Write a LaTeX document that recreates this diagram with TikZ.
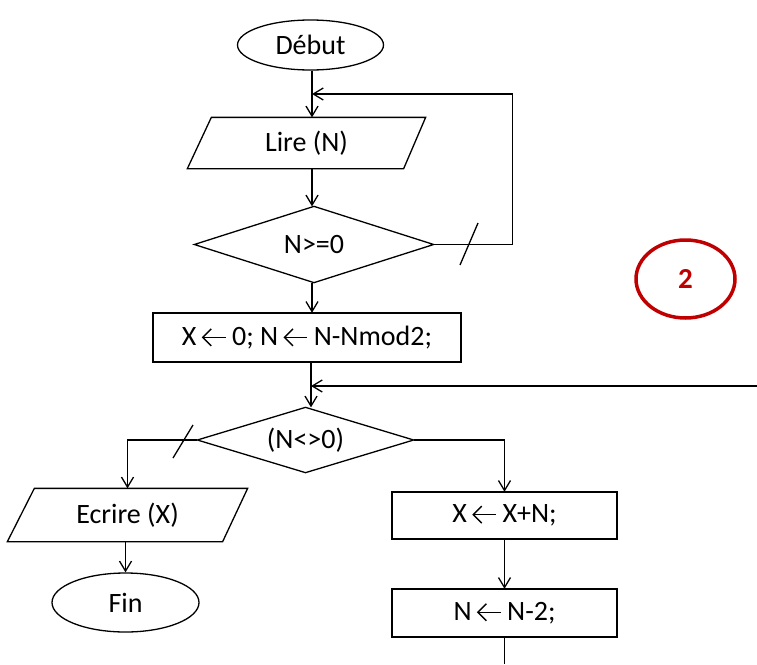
\documentclass[tikz,border=0pt]{standalone}
\usepackage{fontspec}
\setmainfont{Carlito}
\usetikzlibrary{arrows.meta,shapes.geometric}
\newcommand{\lftarr}{\hspace{0.2em}\tikz[baseline={(0pt,-8pt)}]{\draw[line width=1.4pt] (0.5pt,0pt) -- (23pt,0pt); \draw[line width=1.4pt, line join=miter] (8.5pt,-8.5pt) -- (0pt,0pt) -- (8.5pt,8.5pt);}\hspace{0.2em}}
\definecolor{darkred}{HTML}{C00000}
\begin{document}
\begin{tikzpicture}[x=1pt,y=-1pt,
  line width=1.3pt,
  arr/.style={-{Straight Barb[length=10pt,width=12pt]}},
  txt/.style={font=\fontsize{28}{32}\selectfont, inner sep=0pt},
  term/.style={txt, draw, ellipse},
  procbox/.style={txt, draw, rectangle},
  plain/.style={txt, rectangle, draw=none}
]
\useasboundingbox (0,0) rectangle (757,664);

% nodes
\node[term, minimum width=146pt, minimum height=50pt] (debut) at (310.5,45) {Début};
\node[plain, minimum width=237pt, minimum height=50pt] (lire) at (306.5,143) {Lire (N)};
\node[plain, minimum width=238pt, minimum height=75pt] (d1) at (314,244.5) {N>=0};
\node[procbox, minimum width=308pt, minimum height=49pt] (r1) at (307,337.5) {X\lftarr{}0; N\lftarr{}N-Nmod2;};
\node[plain, minimum width=215pt, minimum height=64pt] (d2) at (305.5,440) {(N<>0)};
\node[plain, minimum width=239pt, minimum height=52pt] (ecrire) at (127.5,515) {Ecrire (X)};
\node[term, minimum width=147pt, minimum height=59pt] (fin) at (125.5,602.5) {Fin};
\node[procbox, minimum width=225pt, minimum height=47pt] (r2) at (504.5,515.5) {X\lftarr{}X+N;};
\node[procbox, minimum width=225pt, minimum height=48pt] (r3) at (504.5,613) {N\lftarr{}N-2;};
\node[ellipse, draw=darkred, line width=3.5pt, minimum width=99pt, minimum height=78pt, inner sep=0pt,
      text=darkred, font=\fontsize{29}{32}\selectfont\bfseries] (num) at (685.5,279) {2};

% shapes drawn from node anchors
\draw ([xshift=24pt]lire.north west) -- (lire.north east) -- ([xshift=-22pt]lire.south east) -- (lire.south west) -- cycle;
\draw (d1.west) -- (d1.north) -- (d1.east) -- (d1.south) -- cycle;
\draw (d2.west) -- (d2.north) -- (d2.east) -- (d2.south) -- cycle;
\draw ([xshift=27pt]ecrire.north west) -- (ecrire.north east) -- ([xshift=-25pt]ecrire.south east) -- (ecrire.south west) -- cycle;

% coordinates
\coordinate (jl) at (312,94);
\coordinate (j2) at (311,386);
\coordinate (rin) at (757,386);
\coordinate (bot) at (504.5,664);

% connectors
\draw[arr] (jl |- debut.south) -- (jl |- lire.north);
\draw[arr] (d1.east) -- ++(79,0) |- (jl);
\draw (460,265) -- (478,223);
\draw[arr] (jl |- lire.south) -- (jl |- d1.north);
\draw[arr] (jl |- d1.south) -- (jl |- r1.north);
\draw[arr] (j2 |- r1.south) -- (j2 |- d2.north);
\draw[arr] (rin) -- (j2);
\draw[arr] (d2.west) -| (ecrire.north);
\draw (173,458) -- (193,425);
\draw[arr] (d2.east) -| (r2.north);
\draw[arr] (fin.north |- ecrire.south) -- (fin.north);
\draw[arr] (r2.south) -- (r3.north);
\draw (r3.south) -- (bot);
\end{tikzpicture}
\end{document}
